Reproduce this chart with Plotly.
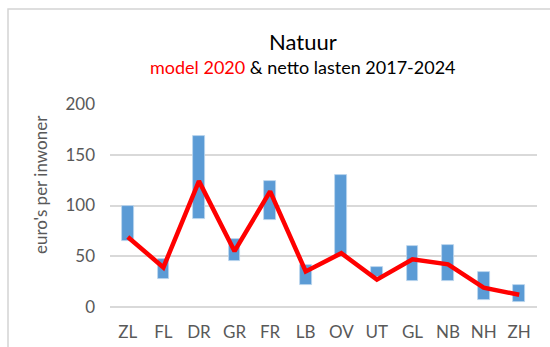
import plotly.graph_objects as go

# Provinces and values (euro per inwoner)
provinces = ["ZL", "FL", "DR", "GR", "FR", "LB", "OV", "UT", "GL", "NB", "NH", "ZH"]
lasten_min = [65, 28, 87, 45, 86, 22, 49, 30, 26, 26, 7, 5]      # netto lasten 2017-2024, low
lasten_max = [100, 47, 168, 67, 124, 41, 130, 39, 60, 61, 34, 22]  # netto lasten 2017-2024, high
model_2020 = [69, 39, 124, 55, 114, 35, 53, 27, 47, 42, 19, 12]

y_ticks = [0, 50, 100, 150, 200]

FONT = "Lato"
GRAY = "#595959"

fig = go.Figure()

# Floating range bars: base at the low value, height up to the high value
fig.add_trace(go.Bar(
    x=provinces,
    y=[hi - lo for lo, hi in zip(lasten_min, lasten_max)],
    base=lasten_min,
    marker=dict(color="#5B9BD5", line=dict(color="#BDD7EE", width=0.8)),
    width=0.33,
    showlegend=False,
    hoverinfo="skip",
))

# Model line
fig.add_trace(go.Scatter(
    x=provinces,
    y=model_2020,
    mode="lines",
    line=dict(color="#FF0000", width=4.5),
    showlegend=False,
))

fig.update_layout(
    width=550,
    height=347,
    margin=dict(l=110, r=13, t=104, b=40),
    paper_bgcolor="white",
    plot_bgcolor="white",
    font=dict(family=FONT, color=GRAY, size=17),
    bargap=0.0,
    xaxis=dict(
        showgrid=False,
        showline=False,
        zeroline=False,
        tickfont=dict(size=17, color=GRAY),
        ticklabelstandoff=13,
        automargin=False,
        fixedrange=True,
    ),
    yaxis=dict(
        range=[0, 200],
        tickvals=y_ticks,
        showgrid=True,
        gridcolor="#D9D9D9",
        gridwidth=1.5,
        zeroline=True,
        zerolinecolor="#D9D9D9",
        zerolinewidth=1.5,
        showline=False,
        tickfont=dict(size=17, color=GRAY),
        ticklabelstandoff=14,
        automargin=False,
        fixedrange=True,
    ),
    annotations=[
        dict(
            text="Natuur",
            xref="paper", yref="paper",
            x=(303 - 110) / 427, y=(307 - 41) / 203,
            xanchor="center", yanchor="middle",
            showarrow=False,
            font=dict(family=FONT, size=22, color="#000000"),
        ),
        dict(
            text="<span style='color:#FF0000'>model 2020</span> & netto lasten 2017-2024",
            xref="paper", yref="paper",
            x=(303 - 110) / 427, y=(307 - 67) / 203,
            xanchor="center", yanchor="middle",
            showarrow=False,
            font=dict(family=FONT, size=18, color="#000000"),
        ),
        dict(
            text="euro's per inwoner",
            xref="paper", yref="paper",
            x=(40 - 110) / 427, y=(307 - 185) / 203,
            xanchor="center", yanchor="middle",
            textangle=-90,
            showarrow=False,
            font=dict(family=FONT, size=17, color=GRAY),
        ),
    ],
    shapes=[
        dict(
            type="rect",
            xref="paper", yref="paper",
            x0=(8 - 110) / 427, x1=1.2,
            y0=-0.5, y1=(307 - 9) / 203,
            line=dict(color="#D4D4D4", width=1.5),
            fillcolor="rgba(0,0,0,0)",
            layer="below",
        )
    ],
)

fig.write_html("out.html")
